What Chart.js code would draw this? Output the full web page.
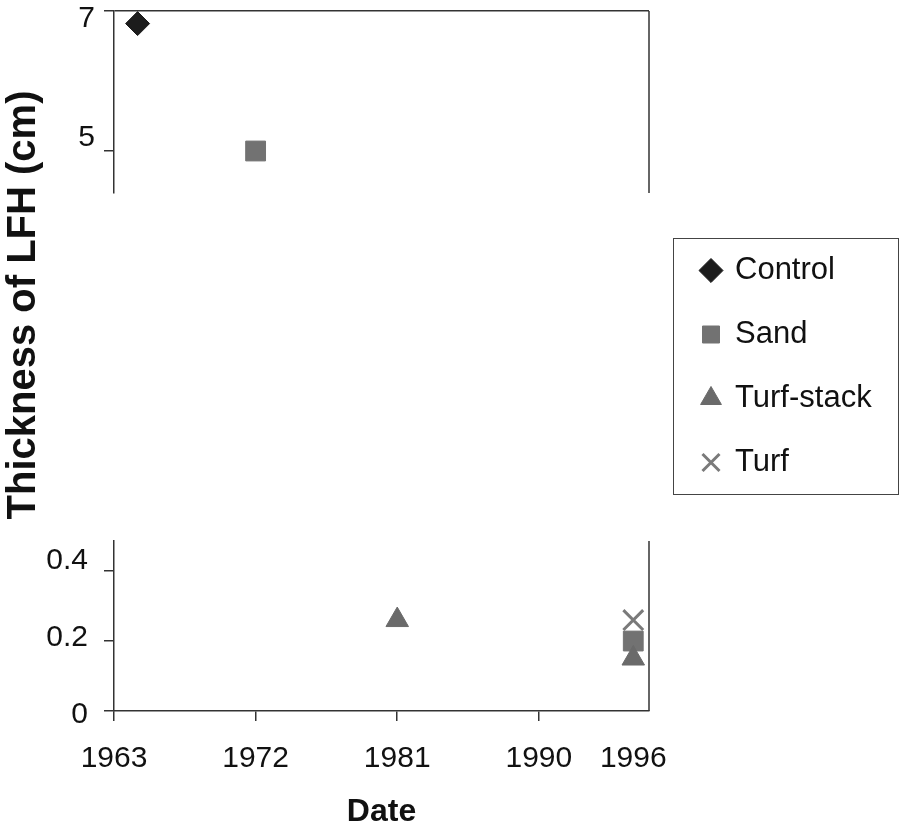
<!DOCTYPE html>
<html><head><meta charset="utf-8">
<script src="https://cdn.jsdelivr.net/npm/chart.js@4/dist/chart.umd.min.js"></script>
<style>html,body{margin:0;padding:0;background:#fff}#wrap{position:relative;width:900px;height:827px}</style>
</head><body><div id="wrap"><canvas id="c"></canvas></div>
<script>
// ---- data ----
const seriesNames = ['Control', 'Sand', 'Turf-stack', 'Turf'];
const controlYears = [1964.5];
const controlThickness = [6.82];
const sandYears = [1972, 1996];
const sandThickness = [5.0, 0.2];
const turfStackYears = [1981, 1996];
const turfStackThickness = [0.26, 0.15];
const turfYears = [1996];
const turfThickness = [0.26];
const xTickValues = [1963, 1972, 1981, 1990, 1996];
const xTickLabels = ['1963', '1972', '1981', '1990', '1996'];
const upperTickValues = [5, 6, 7];
const upperTickLabels = ['5', '', '7'];
const lowerTickValues = [0, 0.2, 0.4];
const lowerTickLabels = ['0', '0.2', '0.4'];
const xRange = [1963, 1997];
const upperRange = [4.4, 7];
const lowerRange = [0, 0.486];
const breakValue = 1;

// ---- styles ----
const FONT = "'Liberation Sans', Arial, sans-serif";
const AX = '#333';
// vertical nudges (px) of tick labels relative to their tick, as printed
const upperLabelShift = [-13, 0, 8];
const lowerLabelShift = [4, -3, -10];
const seriesStyles = [
  {pointStyle: 'rectRot', color: '#1c1c1c', radius: 12, borderWidth: 1},
  {pointStyle: 'rect', color: '#727272', radius: 14, borderWidth: 1},
  {pointStyle: 'triangle', color: '#6a6a6a', radius: 13, borderWidth: 1},
  {pointStyle: 'crossRot', color: '#7a7a7a', radius: 14, borderWidth: 3}
];
const seriesData = [
  [controlYears, controlThickness],
  [sandYears, sandThickness],
  [turfStackYears, turfStackThickness],
  [turfYears, turfThickness]
];

const datasets = [];
seriesData.forEach(([xs, ys], si) => {
  const st = seriesStyles[si];
  ['upper', 'lower'].forEach(panel => {
    const pts = xs.map((x, i) => ({x: x, y: ys[i]}))
      .filter(p => panel === 'upper' ? p.y >= breakValue : p.y < breakValue);
    if (!pts.length) return;
    datasets.push({
      label: seriesNames[si],
      data: pts,
      yAxisID: panel === 'upper' ? 'yUpper' : 'yLower',
      pointStyle: st.pointStyle,
      pointRadius: st.radius,
      pointHoverRadius: st.radius,
      backgroundColor: st.color,
      borderColor: st.color,
      pointBackgroundColor: st.color,
      pointBorderColor: st.color,
      pointBorderWidth: st.borderWidth,
      showLine: false,
      clip: false,
      order: seriesNames.length - si
    });
  });
});

const idxOf = (vals, v) => vals.findIndex(t => Math.abs(t - v) < 1e-9);
const lbl = (vals, labels) => (v) => {
  const i = idxOf(vals, v);
  return i >= 0 ? labels[i] : '';
};
// label with a vertical nudge: rendered as two lines, one empty
const shiftedLbl = (vals, labels, shifts) => (v) => {
  const i = idxOf(vals, v);
  if (i < 0 || !labels[i]) return '';
  const s = shifts[i];
  if (s > 0) return ['', labels[i]];
  if (s < 0) return [labels[i], ''];
  return labels[i];
};
const shiftedFont = (vals, shifts) => (c) => {
  const i = c.tick ? idxOf(vals, c.tick.value) : -1;
  const s = i >= 0 ? Math.abs(shifts[i]) : 0;
  return {family: FONT, size: 30, lineHeight: s ? (2 * s) + 'px' : 1.2};
};
const fixW = s => { s.width = 114; s.paddingTop = 0; s.paddingBottom = 0; };

const framePlugin = {
  id: 'frame',
  afterLayout(chart) {
    const lg = chart.legend;
    if (lg) {
      const w = lg.width;
      lg.left = 669.5; lg.right = 669.5 + w;
      lg.top = 222; lg.bottom = 827; lg.height = 827 - 222;
    }
  },
  afterDraw(chart) {
    const ctx = chart.ctx;
    const xr = chart.scales.x.right;
    ctx.save();
    ctx.strokeStyle = AX; ctx.lineWidth = 1.5;
    ['yUpper', 'yLower'].forEach(id => {
      const s = chart.scales[id];
      ctx.beginPath(); ctx.moveTo(xr, s.top); ctx.lineTo(xr, s.bottom); ctx.stroke();
    });
    ctx.lineWidth = 1; ctx.strokeStyle = '#444';
    ctx.strokeRect(673.5, 238.5, 225, 256);
    ctx.restore();
  }
};

new Chart(document.getElementById('c'), {
  type: 'scatter',
  data: {datasets},
  plugins: [framePlugin],
  options: {
    responsive: true,
    maintainAspectRatio: false,
    animation: false,
    events: [],
    layout: {autoPadding: false, padding: {top: 11, right: 251, left: 0, bottom: 0}},
    plugins: {
      tooltip: {enabled: false},
      legend: {
        position: 'chartArea',
        align: 'start',
        labels: {
          usePointStyle: true,
          boxWidth: 17,
          boxHeight: 17,
          padding: 33,
          color: '#111',
          font: {family: FONT, size: 31},
          filter: (item, data) => data.datasets.findIndex(d => d.label === item.text) === item.datasetIndex,
          sort: (a, b) => a.datasetIndex - b.datasetIndex
        }
      }
    },
    scales: {
      x: {
        type: 'linear', position: 'bottom', min: xRange[0], max: xRange[1],
        afterBuildTicks: s => { s.ticks = xTickValues.map(v => ({value: v})); },
        ticks: {font: {family: FONT, size: 30}, color: '#111', padding: 20, maxRotation: 0, autoSkip: false,
                callback: lbl(xTickValues, xTickLabels)},
        grid: {drawOnChartArea: false, tickLength: 10, color: AX, lineWidth: 1.5,
               tickColor: c => (c.tick && c.tick.value === 1996) ? 'rgba(0,0,0,0)' : AX},
        border: {color: AX, width: 1.5},
        title: {display: true, text: 'Date', color: '#111', font: {family: FONT, size: 32, weight: 'bold'}, padding: {top: 0, bottom: -4}},
        afterFit: s => { s.height = 116; }
      },
      yUpper: {
        type: 'linear', position: 'left', stack: 'v', stackWeight: 182, weight: 4,
        min: upperRange[0], max: upperRange[1],
        afterBuildTicks: s => { s.ticks = upperTickValues.map(v => ({value: v})); },
        ticks: {font: shiftedFont(upperTickValues, upperLabelShift), color: '#111', padding: 9,
                callback: shiftedLbl(upperTickValues, upperTickLabels, upperLabelShift)},
        grid: {drawOnChartArea: true, tickLength: 10, lineWidth: 1.5, tickColor: AX,
               color: c => (c.tick && c.tick.value === upperRange[1]) ? AX : 'rgba(0,0,0,0)'},
        border: {color: AX, width: 1.5},
        afterFit: fixW
      },
      yGapA: {
        type: 'linear', position: 'left', stack: 'v', stackWeight: 224, weight: 3,
        ticks: {display: false}, grid: {display: false}, border: {display: false},
        title: {display: true, text: 'Thickness of LFH (cm)', color: '#111', font: {family: FONT, size: 40, weight: 'bold'}, padding: {top: 0, bottom: 0}},
        afterFit: fixW
      },
      yGapB: {
        type: 'linear', position: 'left', stack: 'v', stackWeight: 124, weight: 2,
        ticks: {display: false}, grid: {display: false}, border: {display: false},
        afterFit: fixW
      },
      yLower: {
        type: 'linear', position: 'left', stack: 'v', stackWeight: 170, weight: 1,
        min: lowerRange[0], max: lowerRange[1],
        afterBuildTicks: s => { s.ticks = lowerTickValues.map(v => ({value: v})); },
        ticks: {font: shiftedFont(lowerTickValues, lowerLabelShift), color: '#111', padding: 16,
                callback: shiftedLbl(lowerTickValues, lowerTickLabels, lowerLabelShift)},
        grid: {drawOnChartArea: false, tickLength: 10, lineWidth: 1.5, color: AX, tickColor: AX},
        border: {color: AX, width: 1.5},
        afterFit: fixW
      }
    }
  }
});
</script></body></html>
